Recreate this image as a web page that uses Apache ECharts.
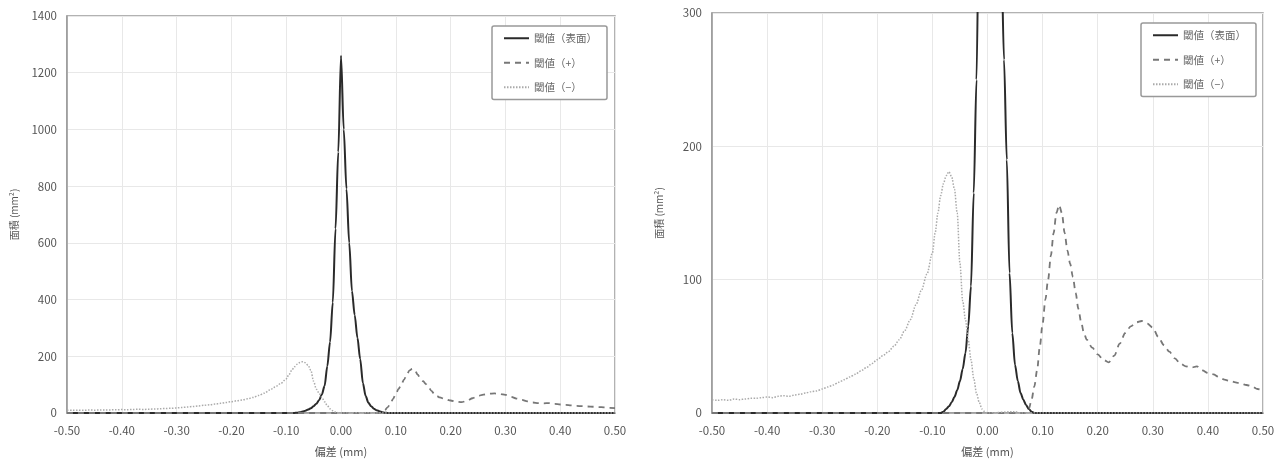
<!DOCTYPE html>
<html>
<head>
<meta charset="utf-8">
<script src="https://cdn.jsdelivr.net/npm/echarts@6/dist/echarts.min.js"></script>
<style>
  html, body { margin: 0; padding: 0; background: #fff; }
  #echart { width: 1288px; height: 466px; }
</style>
</head>
<body>
<div id="echart"></div>
<script>
// 閾値（表面）
var surfaceX = [-0.5, -0.09, -0.085, -0.08, -0.075, -0.07, -0.065, -0.06, -0.055, -0.05, -0.045, -0.04, -0.035, -0.03, -0.025, -0.02, -0.015, -0.01, -0.005, 0,
  0.005, 0.01, 0.015, 0.02, 0.025, 0.03, 0.035, 0.04, 0.045, 0.05, 0.055, 0.06, 0.065, 0.07, 0.075, 0.08, 0.085, 0.5]
var surfaceY = [0, 0, 0, 1, 3, 5, 8, 12, 17, 24, 33, 45, 65, 95, 165, 250, 390, 650, 920, 1260,
  1000, 790, 600, 430, 345, 265, 190, 105, 60, 36, 24, 15, 10, 6, 3, 1, 0, 0]

// 閾値（+）
var plusX = [-0.5, 0.07, 0.075, 0.08, 0.085, 0.09, 0.095, 0.1, 0.105, 0.11, 0.115, 0.12, 0.125, 0.13, 0.135, 0.14, 0.145, 0.15, 0.155, 0.16, 0.165, 0.17, 0.175, 0.18,
  0.19, 0.2, 0.21, 0.22, 0.23, 0.24, 0.25, 0.26, 0.27, 0.28, 0.29, 0.3, 0.31, 0.32, 0.33, 0.34, 0.35, 0.36, 0.37, 0.38, 0.39, 0.4,
  0.41, 0.42, 0.43, 0.44, 0.45, 0.46, 0.47, 0.48, 0.49, 0.5]
var plusY = [0, 0, 3, 10, 20, 32, 50, 67, 85, 100, 118, 135, 150, 156, 150, 135, 122, 112, 102, 90, 78, 68, 60, 55,
  49, 44, 40, 38, 43, 52, 60, 65, 68, 69, 67, 64, 57, 51, 46, 41, 37, 35, 34, 35, 32, 30,
  29, 27, 25, 24, 23, 22, 21, 20, 18, 17]

// 閾値（−）
var minusX = [-0.5, -0.49, -0.48, -0.47, -0.46, -0.45, -0.44, -0.43, -0.42, -0.41, -0.4, -0.39, -0.38, -0.37, -0.36, -0.35, -0.34, -0.33, -0.32, -0.31,
  -0.3, -0.29, -0.28, -0.27, -0.26, -0.25, -0.24, -0.23, -0.22, -0.21, -0.2, -0.19, -0.18, -0.17, -0.16, -0.15, -0.14, -0.13, -0.12, -0.11,
  -0.1, -0.095, -0.09, -0.085, -0.08, -0.075, -0.07, -0.065, -0.06, -0.055, -0.05, -0.045, -0.04, -0.035, -0.03, -0.025, -0.02, -0.015, -0.01, -0.005,
  0, 0.05, 0.06, 0.5]
var minusY = [10, 9.5, 10, 9.5, 10.5, 10, 10.5, 11, 11, 11.5, 12, 11.5, 12.5, 13, 12.5, 13.5, 14, 15, 16, 16.5,
  18, 19.5, 21, 23, 25, 27, 29, 31.5, 34, 37, 40, 43, 46, 50, 55, 62, 70, 81, 92, 104,
  120, 135, 150, 163, 172, 178, 181, 177, 168, 150, 112, 84, 70, 55, 40, 26, 15, 8, 3, 1,
  0, 1, 0, 0]

var xTicks = [-0.5, -0.4, -0.3, -0.2, -0.1, 0, 0.1, 0.2, 0.3, 0.4, 0.5]
var names = ['閾値（表面）', '閾値（+）', '閾値（−）']

function zip(xs, ys) {
  return xs.map(function (x, i) { return [x, ys[i]] })
}

var font = '"Noto Sans CJK JP", "Noto Sans", sans-serif'
var myChart = echarts.init(document.getElementById('echart'))

function xAxis(idx) {
  return {
    type: 'value', gridIndex: idx, min: xTicks[0], max: xTicks[xTicks.length - 1], interval: 0.1,
    name: '偏差 (mm)', nameLocation: 'middle', nameGap: 33,
    nameTextStyle: { color: '#555', fontSize: 11, fontFamily: font },
    axisLine: { onZero: false, lineStyle: { color: '#999', width: 1.5 } },
    axisTick: { show: false },
    axisLabel: { color: '#555', fontSize: 11.5, margin: 12, fontFamily: font,
      formatter: function (v) { return v.toFixed(2) } },
    splitLine: { show: true, lineStyle: { color: '#e8e8e8', width: 1 } }
  }
}
function yAxis(idx, max, step) {
  return {
    type: 'value', gridIndex: idx, min: 0, max: max, interval: step,
    name: '面積 (mm²)', nameLocation: 'middle', nameGap: 48,
    nameTextStyle: { color: '#555', fontSize: 10, fontFamily: font },
    axisLine: { show: true, onZero: false, lineStyle: { color: '#999', width: 1.5 } },
    axisTick: { show: false },
    axisLabel: { color: '#555', fontSize: 11.5, margin: 10, fontFamily: font,
      formatter: function (v) { return String(v) } },
    splitLine: { show: true, lineStyle: { color: '#e8e8e8', width: 1 } }
  }
}
function legend(left, top) {
  return {
    data: names, orient: 'vertical', left: left, top: top,
    itemWidth: 25, itemHeight: 10, itemGap: 14,
    padding: [7, 10, 7, 11],
    itemStyle: { opacity: 0 },
    backgroundColor: '#fff', borderColor: '#999', borderWidth: 1.5, borderRadius: 2,
    textStyle: { color: '#666', fontSize: 10.5, fontFamily: font }
  }
}
function lines(idx) {
  return [
    { name: names[0], type: 'line', xAxisIndex: idx, yAxisIndex: idx, showSymbol: false, symbol: 'none',
      smooth: 0.3, smoothMonotone: 'x', data: zip(surfaceX, surfaceY),
      lineStyle: { color: '#2a2a2a', width: 2 }, itemStyle: { color: '#2a2a2a' } },
    { name: names[1], type: 'line', xAxisIndex: idx, yAxisIndex: idx, showSymbol: false, symbol: 'none',
      smooth: 0.3, smoothMonotone: 'x', data: zip(plusX, plusY),
      lineStyle: { color: '#777', width: 1.8, type: [6, 5] }, itemStyle: { color: '#777' } },
    { name: names[2], type: 'line', xAxisIndex: idx, yAxisIndex: idx, showSymbol: false, symbol: 'none',
      smooth: 0.3, smoothMonotone: 'x', data: zip(minusX, minusY),
      lineStyle: { color: '#aaa', width: 1.5, type: [1.5, 1.5] }, itemStyle: { color: '#aaa' } }
  ]
}

myChart.setOption({
  animation: false,
  backgroundColor: '#fff',
  grid: [
    { left: 67, top: 16, width: 548, height: 397, show: true, borderColor: '#999', borderWidth: 1.5 },
    { left: 712, top: 13, width: 551, height: 400, show: true, borderColor: '#999', borderWidth: 1.5 }
  ],
  xAxis: [xAxis(0), xAxis(1)],
  yAxis: [yAxis(0, 1400, 200), yAxis(1, 300, 100)],
  legend: [legend(492, 26), legend(1141, 23)],
  series: lines(0).concat(lines(1))
})
</script>
</body>
</html>
